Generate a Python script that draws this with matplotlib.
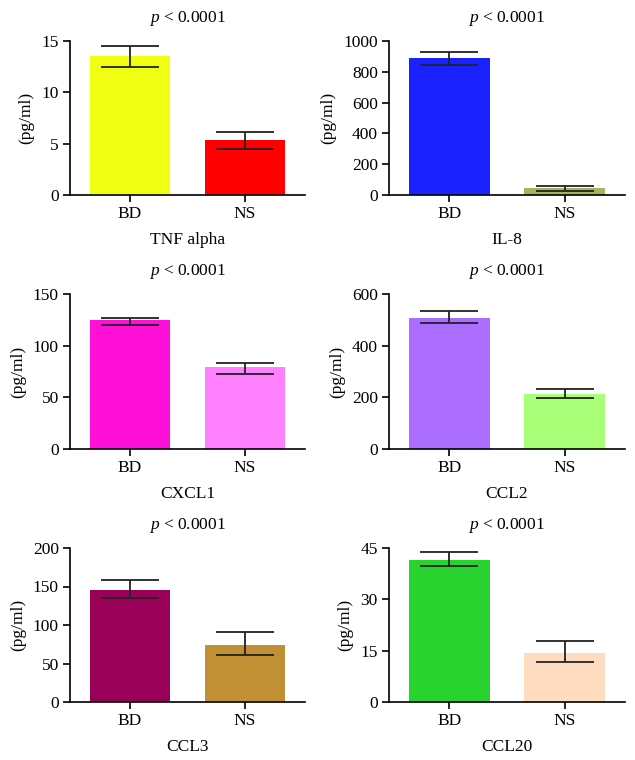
import numpy as np
import matplotlib.pyplot as plt

plt.rcParams['font.family'] = ['Liberation Serif', 'DejaVu Serif']
plt.rcParams['mathtext.fontset'] = 'custom'
plt.rcParams['mathtext.it'] = 'Liberation Serif:italic'
plt.rcParams['mathtext.rm'] = 'Liberation Serif'

groups = ['BD', 'NS']
panels = ['TNF alpha', 'IL-8', 'CXCL1', 'CCL2', 'CCL3', 'CCL20']

# means and error bar ends (lower, upper)
means = [[13.5, 5.4], [892, 43], [125, 79], [507, 211], [145.5, 73.5], [41.5, 14.4]]
err_low = [[12.5, 4.5], [844, 26], [120, 72.4], [487, 199], [134.5, 60.5], [39.7, 11.8]]
err_high = [[14.5, 6.1], [927, 58], [126.5, 83.4], [535, 233], [158.4, 90.4], [43.8, 17.7]]

ymax = [15, 1000, 150, 600, 200, 45]
yticks = [[0, 5, 10, 15], [0, 200, 400, 600, 800, 1000], [0, 50, 100, 150],
          [0, 200, 400, 600], [0, 50, 100, 150, 200], [0, 15, 30, 45]]

colors = [['#f0ff12', '#ff0000'], ['#1a22ff', '#a9b25e'], ['#ff10d8', '#ff80ff'],
          ['#ab6dff', '#a9ff78'], ['#990058', '#c29034'], ['#28d330', '#ffdcc0']]

W, H = 635, 760
fig = plt.figure(figsize=(W / 100, H / 100), dpi=100)

# axes boxes in pixels: (left, right) and (top, bottom)
cols = [(70, 305), (389, 625)]
rows = [(41, 195), (294, 449), (548, 702)]

x = np.arange(2)
for i, name in enumerate(panels):
    l, r = cols[i % 2]
    t, b = rows[i // 2]
    ax = fig.add_axes([l / W, 1 - b / H, (r - l) / W, (b - t) / H])
    m = np.array(means[i])
    yerr = [m - np.array(err_low[i]), np.array(err_high[i]) - m]
    ax.bar(x, m, width=0.7, color=colors[i])
    ax.errorbar(x, m, yerr=yerr, fmt='none', ecolor='#222222', elinewidth=1.3,
                capsize=21, capthick=1.3)
    ax.set_xlim(-0.52, 1.52)
    ax.set_ylim(0, ymax[i])
    ax.set_yticks(yticks[i])
    ax.set_xticks(x)
    ax.set_xticklabels(groups)
    ax.spines['top'].set_visible(False)
    ax.spines['right'].set_visible(False)
    ax.spines['left'].set_linewidth(1.2)
    ax.spines['bottom'].set_linewidth(1.2)
    ax.tick_params(direction='out', length=5, width=1.2, labelsize=12.5, pad=3)
    ax.set_ylabel('(pg/ml)', fontsize=12.5, labelpad=5)
    ax.set_xlabel(name, fontsize=12.5, labelpad=7)
    ax.set_title(r'$p$ < 0.0001', fontsize=12.5, pad=14)

plt.savefig('out.png', dpi=100)
